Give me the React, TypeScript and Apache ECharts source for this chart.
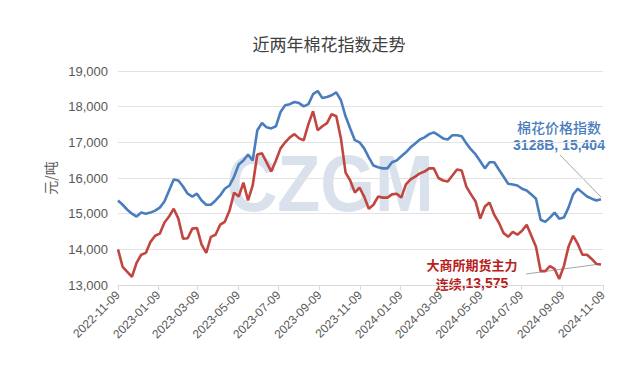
import React, { useEffect, useRef } from 'react';
import * as echarts from 'echarts';

// ---- data ----
const START_DATE = '2022-11-09';
const END_DATE = '2024-11-09';
const STEP_DAYS = 7; // one value per week

const tickLabels = [
  '2022-11-09', '2023-01-09', '2023-03-09', '2023-05-09', '2023-07-09',
  '2023-09-09', '2023-11-09', '2024-01-09', '2024-03-09', '2024-05-09',
  '2024-07-09', '2024-09-09', '2024-11-09',
];

const seriesNames = ['棉花价格指数3128B', '大商所期货主力连续'];

const cottonIndex = [
  15370, 15250, 15110, 15000, 14920, 15030, 15000, 15030, 15085, 15170,
  15340, 15650, 15960, 15930, 15760, 15560, 15480, 15560, 15370, 15250,
  15250, 15370, 15510, 15700, 15790, 16040, 16380, 16490, 16660, 16490,
  17340, 17540, 17420, 17390, 17450, 17850, 18040, 18070, 18130, 18100,
  18010, 18070, 18350, 18440, 18240, 18270, 18320, 18400, 18180, 17730,
  17390, 17060, 17000, 16830, 16580, 16350, 16300, 16270, 16270, 16440,
  16490, 16610, 16720, 16860, 16970, 17080, 17140, 17230, 17280, 17200,
  17110, 17080, 17200, 17200, 17170, 16970, 16800, 16660, 16470, 16270,
  16440, 16440, 16240, 16040, 15840, 15820, 15790, 15700, 15650, 15540,
  15420, 14830, 14770, 14890, 15030, 14860, 14890, 15170, 15540, 15700,
  15590, 15480, 15420, 15370, 15404,
];

const dceFutures = [
  14000, 13510, 13370, 13230, 13620, 13850, 13900, 14210, 14380, 14440,
  14750, 14920, 15140, 14860, 14300, 14310, 14580, 14600, 14130, 13900,
  14350, 14410, 14690, 14770, 15080, 15590, 15480, 15870, 15370, 15790,
  16660, 16690, 16440, 16180, 16490, 16830, 17000, 17140, 17230, 17110,
  17060, 17510, 17870, 17340, 17450, 17540, 17790, 17730, 17110, 16150,
  15930, 15590, 15730, 15480, 15140, 15250, 15480, 15450, 15450, 15540,
  15560, 15450, 15820, 15960, 16040, 16130, 16180, 16270, 16270, 16000,
  15930, 15900, 16070, 16240, 16210, 15760, 15540, 15340, 14860, 15200,
  15310, 14970, 14750, 14460, 14350, 14490, 14410, 14520, 14690, 14380,
  14070, 13390, 13390, 13530, 13450, 13170, 13530, 14070, 14380, 14150,
  13850, 13850, 13730, 13590, 13575,
];

const Y_MIN = 13000;
const Y_MAX = 19000;
const Y_STEP = 1000;

// ---- helpers: x is measured in days since START_DATE ----
const DAY = 86400000;
function utc(s: string): number {
  const [y, m, d] = s.split('-').map(Number);
  return Date.UTC(y, m - 1, d);
}
function dayOf(s: string): number {
  return Math.round((utc(s) - utc(START_DATE)) / DAY);
}
function pad(n: number) {
  return n < 10 ? '0' + n : '' + n;
}
function fmtDay(v: number): string {
  const d = new Date(utc(START_DATE) + Math.round(v) * DAY);
  return d.getUTCFullYear() + '-' + pad(d.getUTCMonth() + 1) + '-' + pad(d.getUTCDate());
}

const BLUE = '#4a7dbd';
const RED = '#c0463f';
const LABEL_RED = '#b8201c';
const NUM_FONT = 'Liberation Sans, Arial, sans-serif';
const CJK_FONT = 'Noto Sans CJK SC, sans-serif';

export default function App() {
  const ref = useRef<HTMLDivElement>(null);

  useEffect(() => {
    if (!ref.current) return;
    const chart = echarts.init(ref.current, undefined, { renderer: 'svg' });
    const ticks = tickLabels.map(dayOf);

    const option: any = {
      animation: false,
      backgroundColor: '#ffffff',
      grid: { left: 118, right: 28, top: 71, bottom: 85 },
      xAxis: {
        type: 'value',
        min: 0,
        max: dayOf(END_DATE),
        axisLine: { show: true, lineStyle: { color: '#d9d9d9', width: 1 } },
        axisTick: {
          show: true,
          customValues: ticks,
          length: 5,
          lineStyle: { color: '#d9d9d9' },
        },
        axisLabel: {
          customValues: ticks,
          formatter: (v: number) => fmtDay(v),
          rotate: 45,
          color: '#595959',
          fontSize: 12,
          fontFamily: NUM_FONT,
          margin: 8,
        },
        splitLine: { show: false },
      },
      yAxis: {
        type: 'value',
        min: Y_MIN,
        max: Y_MAX,
        interval: Y_STEP,
        name: '元/吨',
        nameLocation: 'middle',
        nameRotate: 90,
        nameGap: 58,
        nameTextStyle: { color: '#595959', fontSize: 14, fontFamily: CJK_FONT },
        axisLine: { show: false },
        axisTick: { show: false },
        axisLabel: {
          formatter: (v: number) => v.toLocaleString('en-US'),
          color: '#595959',
          fontSize: 13,
          fontFamily: NUM_FONT,
          margin: 10,
        },
        splitLine: { lineStyle: { color: '#e3e3e3', width: 1 } },
      },
      series: [
        {
          name: seriesNames[0],
          type: 'line',
          showSymbol: false,
          data: cottonIndex.map((v, i) => [i * STEP_DAYS, v]),
          lineStyle: { color: BLUE, width: 2.6 },
          itemStyle: { color: BLUE },
          z: 3,
        },
        {
          name: seriesNames[1],
          type: 'line',
          showSymbol: false,
          data: dceFutures.map((v, i) => [i * STEP_DAYS, v]),
          lineStyle: { color: RED, width: 2.6 },
          itemStyle: { color: RED },
          z: 4,
        },
      ],
      graphic: [
        {
          type: 'text',
          x: 330,
          y: 183,
          scaleX: 0.88,
          z: -1,
          silent: true,
          style: {
            text: 'CZGM',
            fontSize: 80,
            fontWeight: 'bold',
            fontFamily: 'Liberation Sans, Arial, sans-serif',
            fill: 'rgba(150,172,202,0.36)',
            textAlign: 'center',
            textVerticalAlign: 'middle',
          },
        },
        {
          type: 'text',
          x: 329,
          y: 43,
          style: {
            text: '近两年棉花指数走势',
            fontSize: 17,
            fontFamily: CJK_FONT,
            fill: '#404040',
            textAlign: 'center',
            textVerticalAlign: 'middle',
          },
        },
        {
          type: 'text',
          x: 559,
          y: 136,
          style: {
            text: '{a|棉花价格指数}\n{b|3128B, 15,404}',
            textAlign: 'center',
            textVerticalAlign: 'middle',
            rich: {
              a: {
                fontSize: 14,
                fontWeight: 500,
                fontFamily: CJK_FONT,
                fill: BLUE,
                lineHeight: 18,
              },
              b: {
                fontSize: 14,
                fontWeight: 'bold',
                fontFamily: NUM_FONT,
                fill: BLUE,
                lineHeight: 18,
              },
            },
          },
        },
        {
          type: 'text',
          x: 472,
          y: 273.5,
          style: {
            text: '{a|大商所期货主力}\n{a|连续}{c|,13,575}',
            textAlign: 'center',
            textVerticalAlign: 'middle',
            rich: {
              a: {
                fontSize: 13,
                fontWeight: 'bold',
                fontFamily: CJK_FONT,
                fill: LABEL_RED,
                lineHeight: 19,
              },
              c: {
                fontSize: 14,
                fontWeight: 'bold',
                fontFamily: NUM_FONT,
                fill: LABEL_RED,
                lineHeight: 19,
              },
            },
          },
        },
        {
          type: 'line',
          shape: { x1: 560, y1: 155, x2: 601, y2: 197 },
          style: { stroke: '#a6a6a6', lineWidth: 1 },
        },
        {
          type: 'line',
          shape: { x1: 526, y1: 274, x2: 600, y2: 264 },
          style: { stroke: '#a6a6a6', lineWidth: 1 },
        },
      ],
    };

    chart.setOption(option);
    return () => chart.dispose();
  }, []);

  return (
    <div
      ref={ref}
      style={{ position: 'absolute', left: 0, top: 0, width: 631, height: 370 }}
    />
  );
}
